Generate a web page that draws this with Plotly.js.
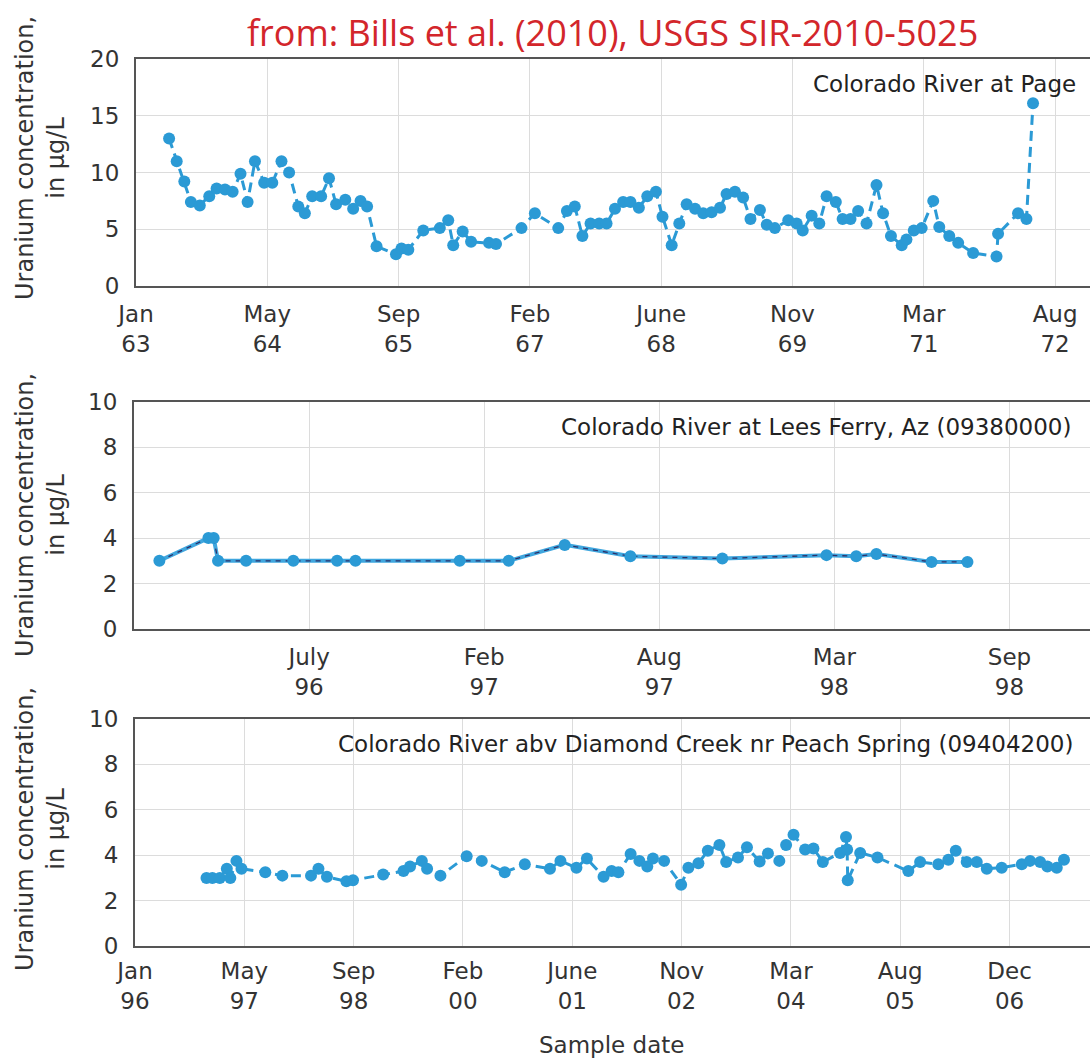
<!DOCTYPE html>
<html>
<head>
<meta charset="utf-8">
<script src="https://cdn.plot.ly/plotly-3.0.1.min.js"></script>
<style>
html,body{margin:0;padding:0;background:#fff;overflow:hidden;}
#chart{width:1090px;height:1063px;}
</style>
</head>
<body>
<div id="chart"></div>
<script>
// ---- Colorado River at Page (1963-1972) ----
const pageDates = ["1963-05-07","1963-06-05","1963-07-04","1963-07-29","1963-09-01","1963-10-07","1963-11-04","1963-12-06",
"1964-01-04","1964-02-03","1964-03-01","1964-03-29","1964-05-03","1964-06-03","1964-07-08","1964-08-06","1964-09-10","1964-10-05","1964-11-02","1964-12-06",
"1965-01-05","1965-02-01","1965-03-08","1965-04-07","1965-05-05","1965-05-30","1965-07-05","1965-09-17","1965-10-08","1965-11-03","1965-12-30",
"1966-03-03","1966-04-04","1966-04-23","1966-05-29","1966-06-30","1966-09-06","1966-10-03",
"1967-01-08","1967-02-28","1967-05-28","1967-06-30","1967-07-30","1967-08-28","1967-09-28","1967-10-31","1967-11-28","1967-12-30",
"1968-01-30","1968-02-27","1968-03-30","1968-05-01","1968-06-03","1968-06-28","1968-08-02","1968-08-31","1968-09-28","1968-10-30","1968-11-30",
"1969-01-01","1969-02-02","1969-02-27","1969-03-31","1969-05-01","1969-05-29","1969-07-04","1969-07-30","1969-08-30","1969-10-20","1969-11-21","1969-12-14",
"1970-01-17","1970-02-15","1970-03-15","1970-04-19","1970-05-15","1970-06-14","1970-07-13","1970-08-14","1970-09-21","1970-10-16","1970-11-15","1970-12-26",
"1971-01-13","1971-02-10","1971-03-12","1971-04-25","1971-05-18","1971-06-25","1971-07-29","1971-09-24","1971-12-22","1971-12-28",
"1972-03-13","1972-04-14","1972-05-09"];
const pageValues = [13.0,11.0,9.2,7.4,7.1,7.9,8.6,8.5,
8.3,9.9,7.4,11.0,9.1,9.1,11.0,10.0,7.0,6.4,7.9,7.9,
9.5,7.2,7.6,6.8,7.5,7.0,3.5,2.8,3.3,3.2,4.9,
5.1,5.8,3.6,4.8,3.9,3.8,3.7,
5.1,6.4,5.1,6.6,7.0,4.4,5.5,5.5,5.5,6.8,
7.4,7.4,6.9,7.9,8.3,6.1,3.6,5.5,7.2,6.8,6.4,
6.5,6.9,8.1,8.3,7.8,5.9,6.7,5.4,5.1,5.8,5.5,4.9,
6.2,5.5,7.9,7.4,5.9,5.9,6.6,5.5,8.9,6.4,4.4,3.6,
4.1,4.9,5.1,7.5,5.2,4.4,3.8,2.9,2.6,4.6,
6.4,5.9,16.1];
const pageTickVals = ["1963-01-01","1964-05-15","1965-09-27","1967-02-09","1968-06-23","1969-11-05","1971-03-20","1972-08-01"];
const pageTickText = ["Jan<br>63","May<br>64","Sep<br>65","Feb<br>67","June<br>68","Nov<br>69","Mar<br>71","Aug<br>72"];
const pageRange = ["1963-01-01","1972-12-12"];

// ---- Colorado River at Lees Ferry (1996-1998) ----
const leesDates = ["1996-01-30","1996-03-26","1996-04-01","1996-04-06","1996-05-08","1996-07-01","1996-08-20","1996-09-10",
"1997-01-07","1997-03-04","1997-05-07","1997-07-21","1997-11-03","1998-03-02","1998-04-05","1998-04-28","1998-06-30","1998-08-10"];
const leesValues = [3.0,4.0,4.0,3.0,3.0,3.0,3.0,3.0,3.0,3.0,3.7,3.2,3.1,3.25,3.2,3.3,2.95,2.95];
const leesTickVals = ["1996-07-19","1997-02-04","1997-08-23","1998-03-11","1998-09-27"];
const leesTickText = ["July<br>96","Feb<br>97","Aug<br>97","Mar<br>98","Sep<br>98"];
const leesRange = ["1996-01-01","1998-12-28"];

// ---- Colorado River abv Diamond Creek (1996-2007) ----
const diamondDates = ["1996-11-23","1996-12-20","1997-01-23","1997-02-24","1997-03-12","1997-04-09","1997-05-02","1997-08-19","1997-11-05",
"1998-03-16","1998-04-19","1998-05-28","1998-08-25","1998-09-24",
"1999-02-09","1999-05-13","1999-06-12","1999-08-05","1999-08-29","1999-10-29",
"2000-02-26","2000-05-05","2000-08-18","2000-11-18",
"2001-03-13","2001-04-30","2001-07-12","2001-08-29","2001-11-13","2001-12-20",
"2002-01-20","2002-03-17","2002-04-26","2002-06-01","2002-06-27","2002-08-17","2002-11-03","2002-12-06",
"2003-01-21","2003-03-05","2003-04-27","2003-05-28","2003-07-21","2003-08-31","2003-10-28","2003-12-05",
"2004-01-26","2004-02-26","2004-03-31","2004-05-23","2004-06-30","2004-08-12","2004-10-30","2004-11-26","2004-12-01","2004-12-04",
"2005-01-30","2005-04-19","2005-09-07","2005-10-31",
"2006-01-22","2006-03-09","2006-04-12","2006-06-01","2006-07-17","2006-09-01","2006-11-08",
"2007-02-08","2007-03-18","2007-05-03","2007-06-05","2007-07-18","2007-08-20"];
const diamondValues = [3.0,3.0,3.0,3.4,3.0,3.75,3.4,3.25,3.1,
3.1,3.4,3.05,2.85,2.9,
3.15,3.3,3.5,3.75,3.4,3.1,
3.95,3.75,3.25,3.6,
3.4,3.75,3.45,3.85,3.05,3.3,
3.25,4.05,3.75,3.5,3.85,3.75,2.7,3.45,
3.65,4.2,4.45,3.7,3.9,4.35,3.72,4.08,
3.75,4.45,4.9,4.25,4.3,3.7,4.1,4.8,4.25,2.9,
4.1,3.9,3.3,3.7,
3.6,3.8,4.2,3.7,3.7,3.4,3.45,
3.6,3.75,3.7,3.5,3.45,3.8];
const diamondTickVals = ["1996-01-01","1997-05-15","1998-09-27","2000-02-09","2001-06-23","2002-11-05","2004-03-19","2005-08-01","2006-12-14"];
const diamondTickText = ["Jan<br>96","May<br>97","Sep<br>98","Feb<br>00","June<br>01","Nov<br>02","Mar<br>04","Aug<br>05","Dec<br>06"];
const diamondRange = ["1996-01-01","2007-12-17"];

const W = 1090, H = 1063;
const BLUE = '#2b9ad5';
const NAVY = '#2d2f68';
const FONT = 'DejaVu Sans';
const px = v => v / W;
const py = v => 1 - v / H;

const traces = [
  {x: pageDates, y: pageValues, xaxis:'x', yaxis:'y', type:'scatter', mode:'lines+markers',
   line:{color:BLUE, width:3, dash:'10px,6px'}, marker:{color:BLUE, size:12}},
  {x: leesDates, y: leesValues, xaxis:'x2', yaxis:'y2', type:'scatter', mode:'lines',
   line:{color:'#3fa6de', width:4}},
  {x: leesDates, y: leesValues, xaxis:'x2', yaxis:'y2', type:'scatter', mode:'lines',
   line:{color:NAVY, width:1.3, dash:'5px,5px'}},
  {x: leesDates, y: leesValues, xaxis:'x2', yaxis:'y2', type:'scatter', mode:'markers',
   marker:{color:BLUE, size:12}},
  {x: diamondDates, y: diamondValues, xaxis:'x3', yaxis:'y3', type:'scatter', mode:'lines+markers',
   line:{color:BLUE, width:3, dash:'10px,6px'}, marker:{color:BLUE, size:12}}
];

function xax(dom, anchor, range, vals, text, standoff) {
  return {type:'date', domain:dom, anchor:anchor, range:range, tickmode:'array', tickvals:vals, ticktext:text,
    showgrid:true, gridcolor:'#dcdcdc', gridwidth:1, showline:true, linecolor:'#555', linewidth:2,
    mirror:true, ticks:'', zeroline:false, ticklabelstandoff:standoff,
    tickfont:{family:FONT, size:23, color:'#333'}};
}
function yax(dom, anchor, max, step) {
  return {domain:dom, anchor:anchor, range:[0,max], dtick:step, tick0:0, showgrid:true, gridcolor:'#dcdcdc', gridwidth:1,
    showline:true, linecolor:'#555', linewidth:2, mirror:false, ticks:'', zeroline:false,
    ticklabelstandoff:10, tickfont:{family:FONT, size:23, color:'#333'}};
}

const ytitle = 'Uranium concentration,<br>in µg/L';
const annFont = {family:FONT, size:23, color:'#222'};

const layout = {
  width:W, height:H, margin:{l:0, r:0, t:0, b:0}, showlegend:false,
  paper_bgcolor:'#fff', plot_bgcolor:'#fff',
  font:{family:FONT, size:23, color:'#333'},
  xaxis: xax([px(136),1], 'y', pageRange, pageTickVals, pageTickText, 6),
  yaxis: yax([py(286), py(59)], 'x', 20, 5),
  xaxis2: xax([px(134),1], 'y2', leesRange, leesTickVals, leesTickText, 6),
  yaxis2: yax([py(629), py(401.7)], 'x2', 10, 2),
  xaxis3: xax([px(135),1], 'y3', diamondRange, diamondTickVals, diamondTickText, 3),
  yaxis3: yax([py(946), py(719)], 'x3', 10, 2),
  annotations: [
    {text:'from: Bills et al. (2010), USGS SIR-2010-5025', xref:'paper', yref:'paper', x:px(612), y:py(32),
     xanchor:'center', yanchor:'middle', showarrow:false, font:{family:'Open Sans', size:36, color:'#d3262b'}},
    {text:ytitle, xref:'paper', yref:'paper', x:px(40), y:py(158), textangle:-90, xanchor:'center', yanchor:'middle',
     showarrow:false, font:{family:FONT, size:24, color:'#333'}},
    {text:ytitle, xref:'paper', yref:'paper', x:px(40), y:py(515), textangle:-90, xanchor:'center', yanchor:'middle',
     showarrow:false, font:{family:FONT, size:24, color:'#333'}},
    {text:ytitle, xref:'paper', yref:'paper', x:px(40), y:py(829), textangle:-90, xanchor:'center', yanchor:'middle',
     showarrow:false, font:{family:FONT, size:24, color:'#333'}},
    {text:'Colorado River at Page', xref:'paper', yref:'paper', x:px(1078), y:py(84), xanchor:'right', yanchor:'middle',
     showarrow:false, font:annFont},
    {text:'Colorado River at Lees Ferry, Az (09380000)', xref:'paper', yref:'paper', x:px(1073), y:py(427), xanchor:'right', yanchor:'middle',
     showarrow:false, font:annFont},
    {text:'Colorado River abv Diamond Creek nr Peach Spring (09404200)', xref:'paper', yref:'paper', x:px(1075), y:py(744), xanchor:'right', yanchor:'middle',
     showarrow:false, font:annFont},
    {text:'Sample date', xref:'paper', yref:'paper', x:px(611), y:py(1045), xanchor:'center', yanchor:'middle',
     showarrow:false, font:{family:FONT, size:23, color:'#333'}}
  ]
};

Plotly.newPlot('chart', traces, layout, {staticPlot:true, displayModeBar:false});
</script>
</body>
</html>
